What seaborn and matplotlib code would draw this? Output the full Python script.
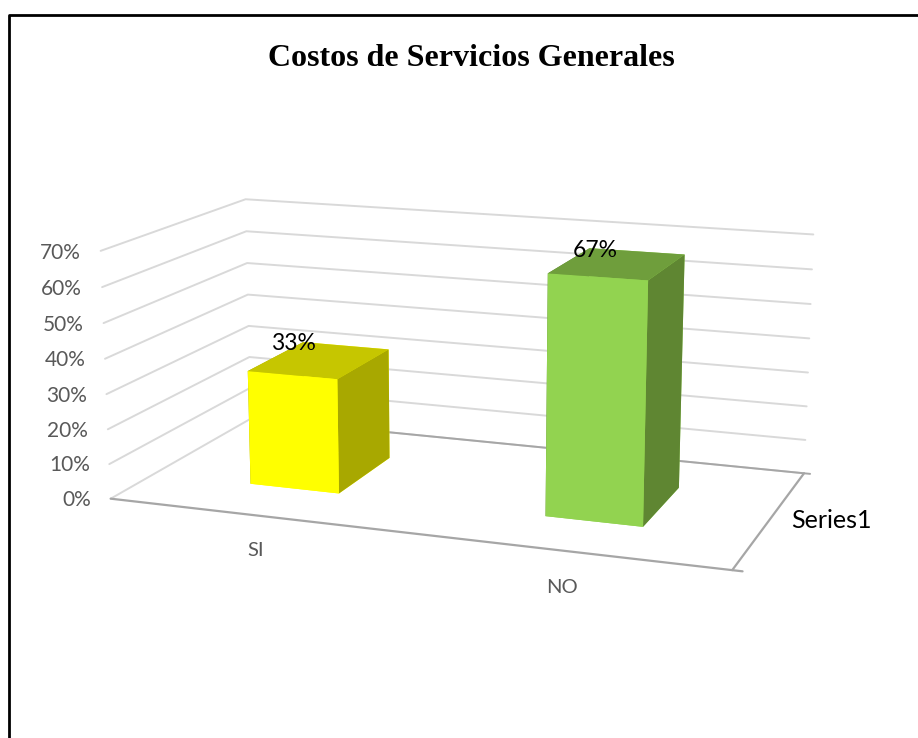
import numpy as np
import pandas as pd
import seaborn as sns
import matplotlib
matplotlib.use("Agg")
import matplotlib.pyplot as plt
from matplotlib.lines import Line2D

categorias = ["SI", "NO"]
valores = [0.33, 0.67]
etiquetas = ["33%", "67%"]
ticks = [0.0, 0.1, 0.2, 0.3, 0.4, 0.5, 0.6, 0.7]
tick_labels = ["0%", "10%", "20%", "30%", "40%", "50%", "60%", "70%"]
titulo = "Costos de Servicios Generales"
serie = "Series1"

sns.set_theme(style="white")
plt.rcParams["font.family"] = ["Lato", "DejaVu Sans"]

# front, top, side for each bar
colores = {
    "SI": sns.color_palette(["#FFFF00", "#C6C600", "#A8A800"]),
    "NO": sns.color_palette(["#92D350", "#6F9E3C", "#5F8632"]),
}
gris = "#595959"

df = pd.DataFrame({"categoria": categorias, "valor": valores, "etiqueta": etiquetas})

fig = plt.figure(figsize=(9.18, 7.38), dpi=100)
ax = fig.add_axes([-0.0686, -0.1632, 1.12, 1.3], projection="3d")
ax.computed_zorder = False
ax.set_proj_type("persp", focal_length=0.42)
ax.view_init(elev=13.8, azim=-70)
ax.set_box_aspect((1.95, 1.0, 0.775), zoom=0.76)
ax.set_xlim(0, 2)
ax.set_ylim(0, 1)
ax.set_zlim(0, 0.7)
ax.set_axis_off()

# gridlines on the left and back walls
for t in ticks:
    ax.plot([0, 0, 2], [0, 1, 1], [t, t, t], color="#D9D9D9", lw=1.4, zorder=1)
# floor edges
ax.plot([0, 2.03], [0, 0], [0, 0], color="#A6A6A6", lw=1.6, zorder=2)
ax.plot([2, 2], [0, 1], [0, 0], color="#A6A6A6", lw=1.6, zorder=2)
ax.plot([0, 2.02], [1, 1], [0, 0], color="#A6A6A6", lw=1.4, zorder=2)

# bars
ancho = 0.31
fondo = 0.42
for i, row in df.iterrows():
    x0 = i + (1 - ancho) / 2
    y0 = (1 - fondo) / 2
    fr, top, side = colores[row["categoria"]]
    # faces: -z +z -y +y -x +x
    ax.bar3d(x0, y0, 0, ancho, fondo, row["valor"], shade=False,
             color=[fr, top, fr, fr, side, side], edgecolor="none", zorder=5)
    ax.text(x0 - 0.022 + i * 0.05, y0 + fondo - 0.03, row["valor"], row["etiqueta"], color="black",
            fontsize=16.5, ha="center", va="center", zorder=10)
    ax.text(0.65 + i * 0.94, -0.30, 0, row["categoria"], color=gris, fontsize=14.5,
            ha="center", va="center", zorder=10)

for t, lab in zip(ticks, tick_labels):
    ax.text(-0.07, 0, t - 0.01, lab, color=gris, fontsize=15, ha="right", va="center", zorder=10)

ax.text(2.065, 0.5, 0, serie, color="black", fontsize=18, ha="left", va="center", zorder=10)

fig.text(471 / 918, 1 - 58 / 738, titulo, family="Liberation Serif", weight="bold",
         fontsize=23, color="black", ha="center", va="center")

# outer frame of the chart, open on the right and at the bottom
fig.add_artist(Line2D([9 / 918, 9 / 918, 1], [0, 1 - 15 / 738, 1 - 15 / 738],
                      transform=fig.transFigure, color="black", lw=2))

fig.savefig("out.png", dpi=100, facecolor="white")
